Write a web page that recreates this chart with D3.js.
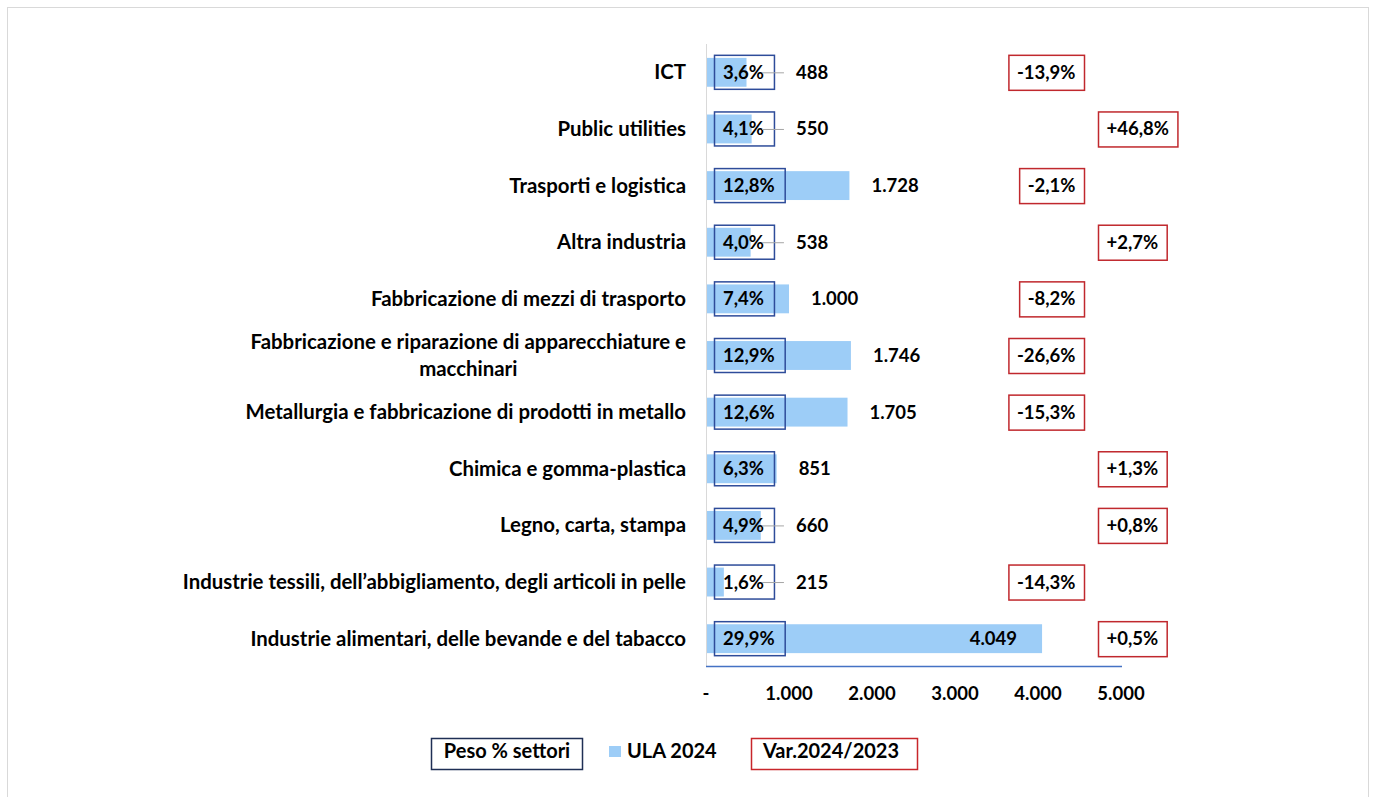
<!DOCTYPE html>
<html>
<head>
<meta charset="utf-8">
<script src="https://cdn.jsdelivr.net/npm/d3@7"></script>
<style>
  body { margin: 0; background: #fff; }
  text { font-family: Lato, "Open Sans", sans-serif; font-weight: bold; fill: #000; }
</style>
</head>
<body>
<svg width="1373" height="797"></svg>
<script>
var categories = [
  'ICT',
  'Public utilities',
  'Trasporti e logistica',
  'Altra industria',
  'Fabbricazione di mezzi di trasporto',
  'Fabbricazione e riparazione di apparecchiature e\nmacchinari',
  'Metallurgia e fabbricazione di prodotti in metallo',
  'Chimica e gomma-plastica',
  'Legno, carta, stampa',
  'Industrie tessili, dell\u2019abbigliamento, degli articoli in pelle',
  'Industrie alimentari, delle bevande e del tabacco'
];
var ula2024 = [488, 550, 1728, 538, 1000, 1746, 1705, 851, 660, 215, 4049];
var pesoSettori = [3.6, 4.1, 12.8, 4.0, 7.4, 12.9, 12.6, 6.3, 4.9, 1.6, 29.9];
var var2024 = [-13.9, 46.8, -2.1, 2.7, -8.2, -26.6, -15.3, 1.3, 0.8, -14.3, 0.5];
var xTicks = [0, 1000, 2000, 3000, 4000, 5000];

var it = d3.formatLocale({decimal: ',', thousands: '.', grouping: [3], currency: ['', '€'], minus: '-'});
var fmtInt = it.format(',d');
var fmtPct = it.format('.1f');

var catSize = 20.4;
var numSize = 18.5;
var svg = d3.select('svg');

// chart border
svg.append('rect')
  .attr('x', 7.5).attr('y', 7.5)
  .attr('width', 1361).attr('height', 800)
  .attr('fill', 'none').attr('stroke', '#d9d9d9');

var x = d3.scaleLinear().domain([0, 5000]).range([706, 1121]);
var y = d3.scaleBand().domain(categories).range([44, 667])
  .paddingInner(0.49).paddingOuter(0.245);

var rows = categories.map(function(c, i){
  return {cat: c, ula: ula2024[i], peso: pesoSettori[i], v: var2024[i]};
});

// vertical axis line
svg.append('line')
  .attr('x1', x(0) + 0.5).attr('x2', x(0) + 0.5)
  .attr('y1', 44).attr('y2', 667)
  .attr('stroke', '#d9d9d9');

// bars
svg.selectAll('rect.bar')
  .data(rows)
  .enter()
  .append('rect')
  .attr('class', 'bar')
  .attr('x', x(0) + 1)
  .attr('y', function(d){ return y(d.cat) })
  .attr('width', function(d){ return x(d.ula) - x(0) - 1 })
  .attr('height', y.bandwidth())
  .attr('fill', '#9dcdf7');

// bottom axis
svg.append('line')
  .attr('x1', x(0)).attr('x2', x(5000) + 1)
  .attr('y1', 666.5).attr('y2', 666.5)
  .attr('stroke', '#4472c4').attr('stroke-width', 1.5);

svg.selectAll('text.tick')
  .data(xTicks)
  .enter()
  .append('text')
  .attr('class', 'tick')
  .attr('x', function(d){ return x(d) })
  .attr('y', 700)
  .attr('text-anchor', 'middle')
  .style('font-size', numSize + 'px')
  .text(function(d){ return d === 0 ? '-' : fmtInt(d) });

// category labels
var labelRight = 686;
rows.forEach(function(d){
  var lines = d.cat.split('\n');
  var cy = y(d.cat) + y.bandwidth() / 2;
  if (lines.length === 1) {
    svg.append('text')
      .attr('x', labelRight)
      .attr('y', cy + 7)
      .attr('text-anchor', 'end')
      .style('font-size', catSize + 'px')
      .text(lines[0]);
  } else {
    var g = svg.append('g');
    var ts = lines.map(function(l, k){
      return g.append('text')
        .attr('y', cy + 7 - 14 + k * 27.5)
        .attr('text-anchor', 'middle')
        .style('font-size', catSize + 'px')
        .text(l);
    });
    var w = d3.max(ts, function(t){ return t.node().getComputedTextLength() });
    ts.forEach(function(t){ t.attr('x', labelRight - w / 2) });
  }
});

// peso % boxes
var boxLeft = x(0) + 8;
rows.forEach(function(d){
  var cy = y(d.cat) + y.bandwidth() / 2;
  var t = svg.append('text')
    .attr('x', boxLeft + 9)
    .attr('y', cy + 6.5)
    .style('font-size', numSize + 'px')
    .text(fmtPct(d.peso) + '%');
  var w = t.node().getComputedTextLength() + 19;
  d.boxRight = boxLeft + w;
  svg.insert('rect', 'text')
    .attr('x', boxLeft + 0.5).attr('y', cy - 17)
    .attr('width', w).attr('height', 34)
    .attr('fill', 'none')
    .attr('stroke', '#2e4c9a').attr('stroke-width', 1.5);
});

// ULA value labels
rows.forEach(function(d){
  var cy = y(d.cat) + y.bandwidth() / 2;
  var xe = x(d.ula);
  if (d.ula > 3000) {
    svg.append('text')
      .attr('x', xe - 25)
      .attr('y', cy + 6.5)
      .attr('text-anchor', 'end')
      .style('font-size', numSize + 'px')
      .text(fmtInt(d.ula));
    return;
  }
  var lx = Math.max(xe, d.boxRight) + 22;
  if (xe < d.boxRight - 8) {
    svg.append('line')
      .attr('x1', d.boxRight - 12).attr('x2', lx - 12)
      .attr('y1', cy + 0.5).attr('y2', cy + 0.5)
      .attr('stroke', '#a6a6a6');
  }
  svg.append('text')
    .attr('x', lx)
    .attr('y', cy + 6.5)
    .style('font-size', numSize + 'px')
    .text(fmtInt(d.ula));
});

// var 2024/2023 boxes
rows.forEach(function(d){
  var cy = y(d.cat) + y.bandwidth() / 2;
  var t = svg.append('text')
    .attr('y', cy + 6.5)
    .style('font-size', numSize + 'px')
    .text((d.v > 0 ? '+' : '') + fmtPct(d.v) + '%');
  var w = t.node().getComputedTextLength() + 17;
  var bx = d.v < 0 ? 1084 - w : 1098;
  t.attr('x', bx + 8.5);
  svg.append('rect')
    .attr('x', bx + 0.5).attr('y', cy - 17)
    .attr('width', w).attr('height', 35)
    .attr('fill', 'none')
    .attr('stroke', '#c0282d').attr('stroke-width', 1.5);
});

// legend
var legSize = 20;
var leg = svg.append('g');
leg.append('rect')
  .attr('x', 431.5).attr('y', 738.5).attr('width', 151).attr('height', 31)
  .attr('fill', 'none').attr('stroke', '#1f2f55').attr('stroke-width', 1.5);
leg.append('text')
  .attr('x', 507).attr('y', 758).attr('text-anchor', 'middle')
  .style('font-size', legSize + 'px').text('Peso % settori');
leg.append('rect')
  .attr('x', 609).attr('y', 746).attr('width', 12).attr('height', 11)
  .attr('fill', '#9dcdf7');
leg.append('text')
  .attr('x', 627).attr('y', 758)
  .style('font-size', legSize + 'px').text('ULA 2024');
leg.append('rect')
  .attr('x', 751.5).attr('y', 738.5).attr('width', 166).attr('height', 31)
  .attr('fill', 'none').attr('stroke', '#c8262b').attr('stroke-width', 1.5);
leg.append('text')
  .attr('x', 831).attr('y', 758).attr('text-anchor', 'middle')
  .style('font-size', legSize + 'px').text('Var.2024/2023');
</script>
</body>
</html>
